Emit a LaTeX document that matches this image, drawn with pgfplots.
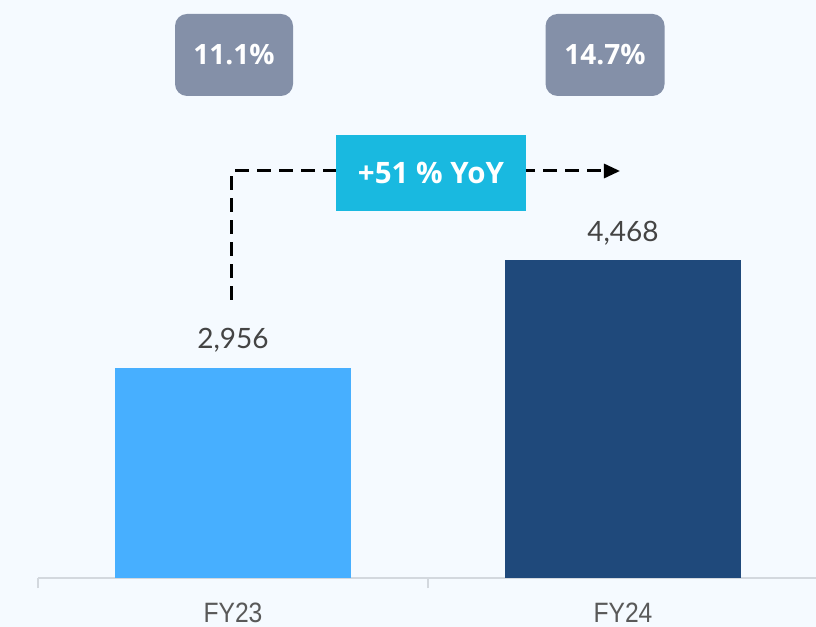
\documentclass[border=0pt]{standalone}
\usepackage{pgfplots}
\pgfplotsset{compat=1.18}
\usepackage{fontspec}
\usetikzlibrary{arrows.meta}
\setmainfont{Lato}
\newfontfamily\boxfont{Open Sans}
\newfontfamily\tickfont[FakeStretch=0.88]{Liberation Sans}

\definecolor{bgcol}{HTML}{F5FAFF}
\definecolor{fy23}{HTML}{47AFFF}
\definecolor{fy24}{HTML}{1F497B}
\definecolor{boxgray}{HTML}{8490A8}
\definecolor{yoycol}{HTML}{19B9E0}
\definecolor{valtext}{HTML}{444444}
\definecolor{ticktext}{HTML}{595959}
\definecolor{axiscol}{HTML}{D3D8DE}

\begin{document}
\begin{tikzpicture}
\fill[bgcol] (0,0) rectangle (816bp,627bp);
\useasboundingbox (0,0) rectangle (816bp,627bp);
\begin{axis}[
    at={(38bp,49bp)}, anchor=south west,
    scale only axis,
    width=778bp, height=578bp,
    xmin=-0.5, xmax=1.4949,
    ymin=0, ymax=8129,
    axis x line*=bottom,
    axis y line=none,
    x axis line style={draw=axiscol, line width=1.5bp, -},
    xtick={0,1},
    xticklabels={FY23,FY24},
    major tick length=0pt,
    xticklabel style={font=\tickfont\fontsize{28bp}{30bp}\selectfont, text=ticktext, anchor=base, inner sep=0pt, yshift=-44bp},
    extra x ticks={-0.5,0.5},
    extra x tick labels={},
    extra x tick style={major tick length=10bp, xtick align=outside, tick style={draw=axiscol, line width=1.5bp}},
    ybar, bar width=236bp, bar shift=0pt,
    nodes near coords={\pgfmathprintnumber[assume math mode=true]{\pgfplotspointmeta}},
    nodes near coords style={font=\fontsize{28bp}{30bp}\selectfont, text=valtext, anchor=base, inner sep=0pt, yshift=19bp},
    clip=false,
]
\addplot[fill=fy23, draw=none] coordinates {(0,2956)};
\addplot[fill=fy24, draw=none] coordinates {(1,4468)};

% growth arrow
\draw[black, line width=3bp, dash pattern=on 14bp off 8bp, -{Triangle[length=16bp,width=14bp]}]
    (axis cs:-0.0026,3910) -- (axis cs:-0.0026,5724) -- (axis cs:0.9923,5724);
\node[fill=yoycol, minimum width=190bp, minimum height=76bp, inner sep=0pt,
      text=white, font=\boxfont\bfseries\fontsize{29.5bp}{31bp}\selectfont]
    at (axis cs:0.5077,5696) {+51 \% YoY};

% margin boxes
\node[fill=boxgray, rounded corners=12bp, minimum width=118bp, minimum height=82bp, inner sep=0pt,
      text=white, font=\boxfont\bfseries\fontsize{28bp}{30bp}\selectfont]
    at (axis cs:0.0026,7356) {11.1\%};
\node[fill=boxgray, rounded corners=12bp, minimum width=119bp, minimum height=82bp, inner sep=0pt,
      text=white, font=\boxfont\bfseries\fontsize{28bp}{30bp}\selectfont]
    at (axis cs:0.954,7356) {14.7\%};
\end{axis}
\end{tikzpicture}
\end{document}
